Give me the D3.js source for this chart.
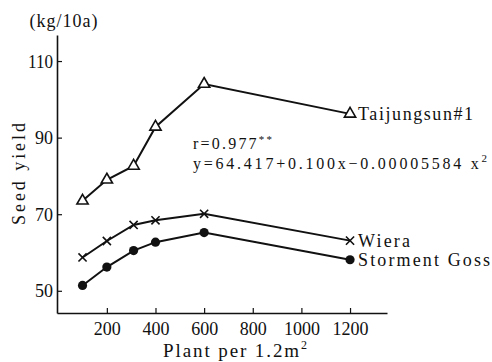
<!DOCTYPE html>
<html>
<head>
<meta charset="utf-8">
<script src="https://cdn.jsdelivr.net/npm/d3@7"></script>
<style>
  body { margin: 0; background: #fff; }
</style>
</head>
<body>
<svg id="chart" width="492" height="362"></svg>
<script>
const serif = "'Liberation Serif', 'Times New Roman', 'DejaVu Serif', serif";

// plant density per 1.2 m2
const plants = [100, 200, 310, 400, 600, 1200];

// seed yield (kg/10a)
const taijungsun = [73.5, 79.0, 82.6, 92.8, 104.0, 96.2];
const wiera = [58.7, 63.0, 67.2, 68.4, 70.1, 63.1];
const stormentGoss = [51.4, 56.2, 60.5, 62.7, 65.2, 58.1];

const xTicks = [200, 400, 600, 800, 1000, 1200];
const yTicks = [50, 70, 90, 110];

const series = [
    { name: 'Taijungsun#1', values: taijungsun, marker: 'triangle', labelWidth: 115 },
    { name: 'Wiera', values: wiera, marker: 'cross', labelWidth: 52 },
    { name: 'Storment Goss', values: stormentGoss, marker: 'dot', labelWidth: 132 }
];

const svg = d3.select('#chart')
    .attr('font-family', serif);

const x = d3.scaleLinear().domain([-5, 1352]).range([57, 387]);
const y = d3.scaleLinear().domain([44.2, 116.8]).range([313, 35]);

// axes, ticks point inward
const xAxis = svg.append('g')
    .attr('transform', `translate(0,${y(44.2)})`)
    .call(d3.axisBottom(x).tickValues(xTicks).tickFormat(d3.format('d'))
        .tickSizeInner(-5).tickSizeOuter(0).tickPadding(9));
const yAxis = svg.append('g')
    .attr('transform', `translate(${x(-5)},0)`)
    .call(d3.axisLeft(y).tickValues(yTicks).tickSizeInner(-5).tickSizeOuter(0).tickPadding(4));

[xAxis, yAxis].forEach(a => {
    a.attr('font-family', serif).attr('font-size', 19);
    a.select('.domain').attr('stroke', '#111').attr('stroke-width', 1.6);
    a.selectAll('.tick line').attr('stroke', '#111').attr('stroke-width', 1.2);
    a.selectAll('.tick text').attr('fill', '#111').attr('lengthAdjust', 'spacingAndGlyphs');
});
xAxis.selectAll('.tick text').attr('textLength', d => d >= 1000 ? 36 : 27);
yAxis.selectAll('.tick text').attr('textLength', d => d >= 100 ? 25 : 18);

const line = d3.line()
    .x((d, i) => x(plants[i]))
    .y(d => y(d));

series.forEach(s => {
    svg.append('path')
        .datum(s.values)
        .attr('fill', 'none')
        .attr('stroke', '#111')
        .attr('stroke-width', 2)
        .attr('d', line);

    const pts = svg.append('g').selectAll('g')
        .data(s.values)
        .enter()
        .append('g')
        .attr('transform', (d, i) => `translate(${x(plants[i])},${y(d)})`);

    if (s.marker === 'triangle') {
        pts.append('path')
            .attr('d', d3.symbol().type(d3.symbolTriangle).size(55))
            .attr('fill', '#fff')
            .attr('stroke', '#111')
            .attr('stroke-width', 1.6);
    } else if (s.marker === 'cross') {
        pts.append('path')
            .attr('d', d3.symbol().type(d3.symbolTimes).size(45))
            .attr('fill', 'none')
            .attr('stroke', '#111')
            .attr('stroke-width', 1.6);
    } else {
        pts.append('circle')
            .attr('r', 4.6)
            .attr('fill', '#111');
    }

    const last = s.values.length - 1;
    svg.append('text')
        .attr('x', x(plants[last]) + 8)
        .attr('y', y(s.values[last]))
        .attr('dy', '0.36em')
        .attr('font-size', 18)
        .attr('fill', '#111')
        .attr('textLength', s.labelWidth).attr('lengthAdjust', 'spacing')
        .text(s.name);
});

// regression note for Taijungsun#1
svg.append('text')
    .attr('x', 193).attr('y', 149)
    .attr('font-size', 16).attr('fill', '#111')
    .attr('textLength', 79).attr('lengthAdjust', 'spacing')
    .html('r=0.977<tspan dy="-6" font-size="11">**</tspan>');
svg.append('text')
    .attr('x', 193).attr('y', 169)
    .attr('font-size', 16).attr('fill', '#111')
    .attr('textLength', 294).attr('lengthAdjust', 'spacing')
    .html('y=64.417+0.100x\u22120.00005584 x<tspan dy="-7" font-size="11">2</tspan>');

// axis titles
svg.append('text')
    .attr('x', 64).attr('y', 27)
    .attr('text-anchor', 'middle')
    .attr('font-size', 18).attr('fill', '#111')
    .style('letter-spacing', '1px')
    .text('(kg/10a)');

svg.append('text')
    .attr('transform', 'translate(25,174) rotate(-90)')
    .attr('text-anchor', 'middle')
    .attr('font-size', 18).attr('fill', '#111')
    .attr('textLength', 102).attr('lengthAdjust', 'spacing')
    .text('Seed  yield');

svg.append('text')
    .attr('x', 163).attr('y', 357)
    .attr('font-size', 19).attr('fill', '#111')
    .attr('textLength', 144).attr('lengthAdjust', 'spacing')
    .html('Plant per 1.2m<tspan dy="-8" font-size="12">2</tspan>');
</script>
</body>
</html>
